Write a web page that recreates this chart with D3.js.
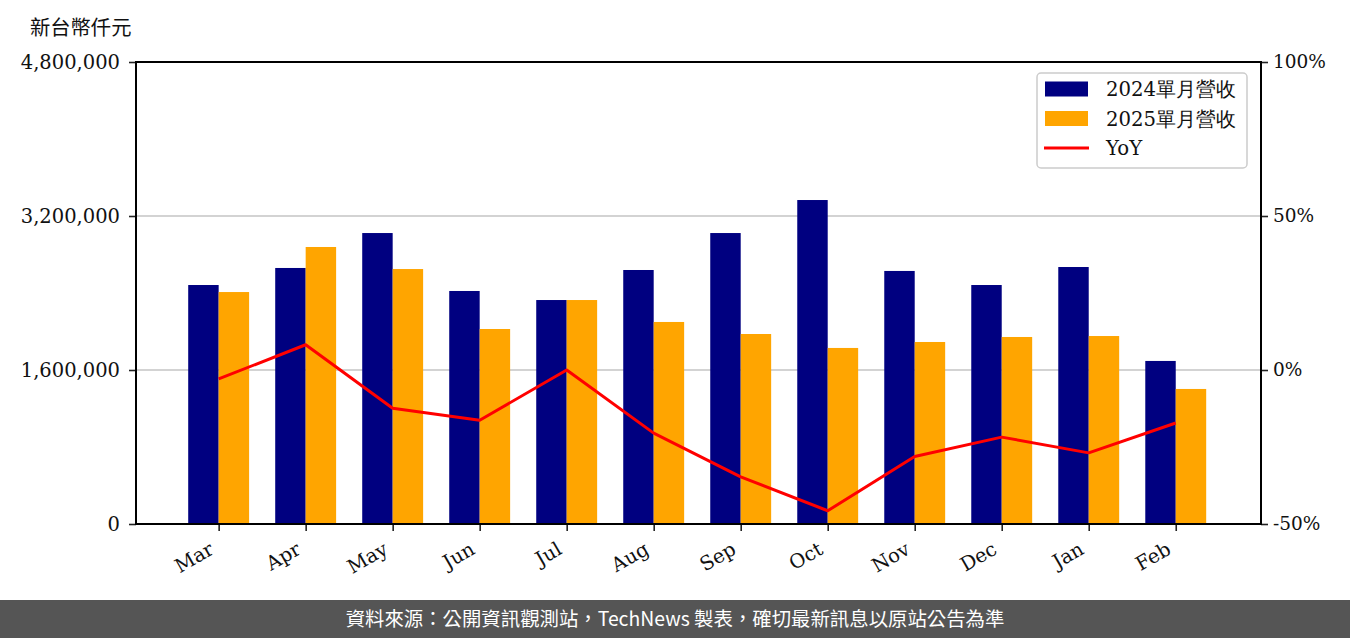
<!DOCTYPE html>
<html><head><meta charset="utf-8">
<script src="https://cdn.jsdelivr.net/npm/d3@7"></script>
<style>body{margin:0;background:#fff;overflow:hidden}</style>
</head><body><svg id="c" width="1350" height="638"></svg>
<script>
const months = ["Mar","Apr","May","Jun","Jul","Aug","Sep","Oct","Nov","Dec","Jan","Feb"];
const rev2024 = [2483000, 2660000, 3023000, 2421000, 2327000, 2639000, 3023000, 3366000, 2629000, 2483000, 2670000, 1694000];
const rev2025 = [2410000, 2878000, 2649000, 2026000, 2327000, 2099000, 1974000, 1829000, 1891000, 1943000, 1953000, 1403000];
const yoy = [-2.9, 8.2, -12.4, -16.3, 0.0, -20.5, -34.7, -45.7, -28.1, -21.8, -26.9, -17.2];
const leftTicks = [0, 1600000, 3200000, 4800000];
const rightTicks = [-50, 0, 50, 100];
const seriesNames = ["2024單月營收", "2025單月營收", "YoY"];
const yTitle = "新台幣仟元";
const footer = "資料來源：公開資訊觀測站，TechNews 製表，確切最新訊息以原站公告為準";

const W = 1350, H = 638;
const L = 136, R = 1261, T = 62, B = 524;
const c24 = "#000080", c25 = "#FFA500", cLine = "#FF0000";
const serif = "'DejaVu Serif', serif";
const cjk = "'Noto Sans CJK TC', sans-serif";

const svg = d3.select("#c");
const bw = 0.35;
const x = d3.scaleLinear().domain([-0.95, 11.98]).range([L, R]);
const y = d3.scaleLinear().domain([0, 4800000]).range([B, T]);
const y2 = d3.scaleLinear().domain([-50, 100]).range([B, T]);

// gridlines
svg.append("g").selectAll("line").data(leftTicks).join("line")
  .attr("x1", L).attr("x2", R).attr("y1", d => y(d)).attr("y2", d => y(d))
  .attr("stroke", "#d3d3d3").attr("stroke-width", 2);

// bars
const idx = d3.range(months.length);
svg.append("g").selectAll("rect").data(idx).join("rect")
  .attr("x", i => x(i - bw)).attr("width", x(bw) - x(0))
  .attr("y", i => y(rev2024[i])).attr("height", i => y(0) - y(rev2024[i]))
  .attr("fill", c24);
svg.append("g").selectAll("rect").data(idx).join("rect")
  .attr("x", i => x(i)).attr("width", x(bw) - x(0))
  .attr("y", i => y(rev2025[i])).attr("height", i => y(0) - y(rev2025[i]))
  .attr("fill", c25);

// YoY line
svg.append("path").datum(idx)
  .attr("d", d3.line().x(i => x(i)).y(i => y2(yoy[i])))
  .attr("fill", "none").attr("stroke", cLine).attr("stroke-width", 3)
  .attr("stroke-linejoin", "round");

// axes
const fmt = d3.format(",");
const ax = svg.append("g").attr("transform", `translate(${L},0)`)
  .call(d3.axisLeft(y).tickValues(leftTicks).tickFormat(fmt).tickSize(7).tickPadding(9));
const ax2 = svg.append("g").attr("transform", `translate(${R},0)`)
  .call(d3.axisRight(y2).tickValues(rightTicks).tickFormat(d => d + "%").tickSize(7).tickPadding(5));
const axb = svg.append("g").attr("transform", `translate(0,${B})`)
  .call(d3.axisBottom(x).tickValues(idx).tickFormat(i => months[i]).tickSize(7));
[ax, ax2, axb].forEach(g => {
  g.select(".domain").remove();
  g.selectAll(".tick line").attr("stroke", "#222").attr("stroke-width", 1.6);
  g.selectAll("text").attr("font-family", serif).attr("font-size", 19.5).attr("fill", "#111");
});
ax2.selectAll("text").attr("font-size", 18.5);
axb.selectAll(".tick text")
  .attr("text-anchor", "end").attr("dy", null).attr("y", 0)
  .attr("transform", "translate(-4,29) rotate(-30)");

// frame
svg.append("rect").attr("x", L).attr("y", T).attr("width", R - L).attr("height", B - T)
  .attr("fill", "none").attr("stroke", "#000").attr("stroke-width", 2);

// y title
svg.append("text").attr("x", 30).attr("y", 35).text(yTitle)
  .attr("font-family", cjk).attr("font-size", 20.3).attr("fill", "#111");

// legend
const lg = svg.append("g");
lg.append("rect").attr("x", 1037).attr("y", 73).attr("width", 210).attr("height", 95)
  .attr("rx", 4).attr("fill", "#fff").attr("fill-opacity", 0.85)
  .attr("stroke", "#cccccc").attr("stroke-width", 1.5);
const rows = [89, 118.5, 148];
const colors = [c24, c25, cLine];
seriesNames.forEach((s, i) => {
  if (i < 2) {
    lg.append("rect").attr("x", 1045).attr("y", rows[i] - 7.5).attr("width", 43).attr("height", 15).attr("fill", colors[i]);
  } else {
    lg.append("line").attr("x1", 1044).attr("x2", 1089).attr("y1", rows[i]).attr("y2", rows[i])
      .attr("stroke", colors[i]).attr("stroke-width", 3);
  }
  lg.append("text").attr("x", 1106).attr("y", rows[i] + 7).text(s)
    .attr("font-family", serif).attr("font-size", 19.7).attr("fill", "#111");
});

// footer
svg.append("rect").attr("x", 0).attr("y", 600).attr("width", W).attr("height", 38).attr("fill", "#555555");
svg.append("text").attr("x", 675).attr("y", 626).attr("text-anchor", "middle").text(footer)
  .attr("font-family", cjk).attr("font-size", 19.4).attr("fill", "#fff");
</script></body></html>
